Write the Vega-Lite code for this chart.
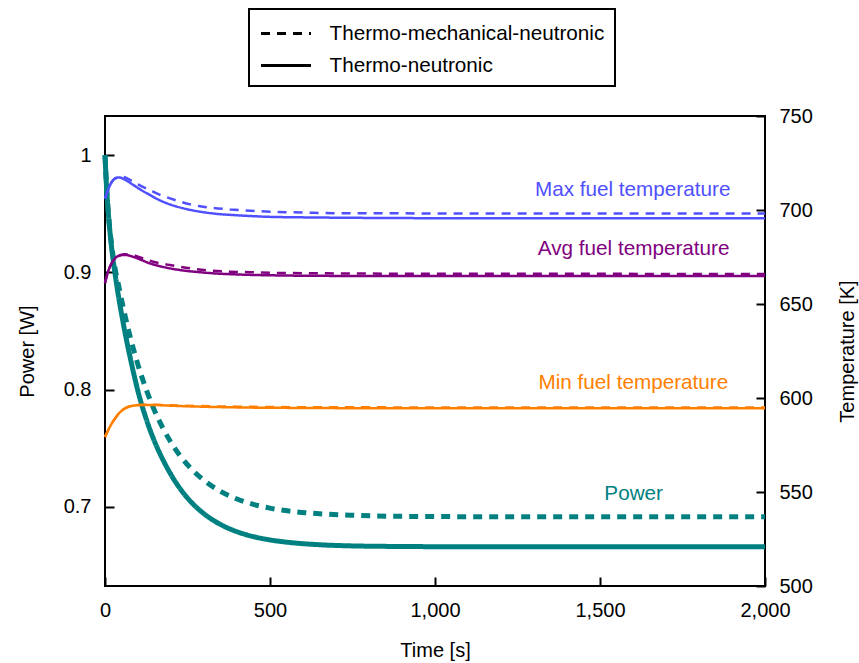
{
  "$schema": "https://vega.github.io/schema/vega-lite/v6.json",
  "width": 660,
  "height": 470,
  "autosize": {"type": "none"},
  "padding": {"left": 105, "top": 116, "right": 94, "bottom": 77},
  "background": "white",
  "config": {
    "font": "Liberation Sans",
    "view": {"stroke": "black", "strokeWidth": 2},
    "axis": {
      "domain": false,
      "grid": false,
      "ticks": true,
      "tickSize": -9,
      "tickWidth": 2,
      "tickColor": "black",
      "labelFontSize": 20,
      "labelColor": "black",
      "labelPadding": 23,
      "labelFlush": false,
      "labelOverlap": false,
      "titleFontSize": 20,
      "titleFontWeight": "normal",
      "titleColor": "black"
    },
    "legend": {
      "orient": "none",
      "legendX": 144,
      "legendY": -107,
      "symbolType": "M-1,0L3,0",
      "symbolSize": 625,
      "symbolStrokeWidth": 3,
      "symbolStrokeColor": "black",
      "labelFontSize": 20.7,
      "labelColor": "black",
      "labelOffset": 42,
      "labelLimit": 0,
      "padding": 10.5,
      "rowPadding": 8,
      "strokeColor": "black",
      "strokeWidth": 2,
      "fillColor": "white"
    }
  },
  "datasets": {
    "power": [
      {"s": "Power", "m": "Thermo-neutronic", "t": 0, "v": 1.0},
      {"s": "Power", "m": "Thermo-neutronic", "t": 5, "v": 0.9712},
      {"s": "Power", "m": "Thermo-neutronic", "t": 10, "v": 0.9506},
      {"s": "Power", "m": "Thermo-neutronic", "t": 15, "v": 0.9345},
      {"s": "Power", "m": "Thermo-neutronic", "t": 20, "v": 0.9211},
      {"s": "Power", "m": "Thermo-neutronic", "t": 25, "v": 0.9098},
      {"s": "Power", "m": "Thermo-neutronic", "t": 30, "v": 0.8997},
      {"s": "Power", "m": "Thermo-neutronic", "t": 40, "v": 0.881},
      {"s": "Power", "m": "Thermo-neutronic", "t": 50, "v": 0.8647},
      {"s": "Power", "m": "Thermo-neutronic", "t": 60, "v": 0.8496},
      {"s": "Power", "m": "Thermo-neutronic", "t": 80, "v": 0.8225},
      {"s": "Power", "m": "Thermo-neutronic", "t": 100, "v": 0.7985},
      {"s": "Power", "m": "Thermo-neutronic", "t": 125, "v": 0.7748},
      {"s": "Power", "m": "Thermo-neutronic", "t": 150, "v": 0.7558},
      {"s": "Power", "m": "Thermo-neutronic", "t": 175, "v": 0.7404},
      {"s": "Power", "m": "Thermo-neutronic", "t": 200, "v": 0.7274},
      {"s": "Power", "m": "Thermo-neutronic", "t": 230, "v": 0.7145},
      {"s": "Power", "m": "Thermo-neutronic", "t": 260, "v": 0.7043},
      {"s": "Power", "m": "Thermo-neutronic", "t": 300, "v": 0.694},
      {"s": "Power", "m": "Thermo-neutronic", "t": 350, "v": 0.6849},
      {"s": "Power", "m": "Thermo-neutronic", "t": 400, "v": 0.6787},
      {"s": "Power", "m": "Thermo-neutronic", "t": 450, "v": 0.6745},
      {"s": "Power", "m": "Thermo-neutronic", "t": 500, "v": 0.6717},
      {"s": "Power", "m": "Thermo-neutronic", "t": 575, "v": 0.6691},
      {"s": "Power", "m": "Thermo-neutronic", "t": 650, "v": 0.6676},
      {"s": "Power", "m": "Thermo-neutronic", "t": 750, "v": 0.6666},
      {"s": "Power", "m": "Thermo-neutronic", "t": 900, "v": 0.6661},
      {"s": "Power", "m": "Thermo-neutronic", "t": 1200, "v": 0.6658},
      {"s": "Power", "m": "Thermo-neutronic", "t": 2000, "v": 0.6658},
      {"s": "Power", "m": "Thermo-mechanical-neutronic", "t": 0, "v": 1.0},
      {"s": "Power", "m": "Thermo-mechanical-neutronic", "t": 5, "v": 0.9712},
      {"s": "Power", "m": "Thermo-mechanical-neutronic", "t": 10, "v": 0.951},
      {"s": "Power", "m": "Thermo-mechanical-neutronic", "t": 15, "v": 0.9355},
      {"s": "Power", "m": "Thermo-mechanical-neutronic", "t": 20, "v": 0.9235},
      {"s": "Power", "m": "Thermo-mechanical-neutronic", "t": 25, "v": 0.913},
      {"s": "Power", "m": "Thermo-mechanical-neutronic", "t": 30, "v": 0.904},
      {"s": "Power", "m": "Thermo-mechanical-neutronic", "t": 40, "v": 0.8904},
      {"s": "Power", "m": "Thermo-mechanical-neutronic", "t": 50, "v": 0.8767},
      {"s": "Power", "m": "Thermo-mechanical-neutronic", "t": 60, "v": 0.8639},
      {"s": "Power", "m": "Thermo-mechanical-neutronic", "t": 70, "v": 0.852},
      {"s": "Power", "m": "Thermo-mechanical-neutronic", "t": 80, "v": 0.8409},
      {"s": "Power", "m": "Thermo-mechanical-neutronic", "t": 100, "v": 0.821},
      {"s": "Power", "m": "Thermo-mechanical-neutronic", "t": 125, "v": 0.7999},
      {"s": "Power", "m": "Thermo-mechanical-neutronic", "t": 150, "v": 0.7821},
      {"s": "Power", "m": "Thermo-mechanical-neutronic", "t": 175, "v": 0.7673},
      {"s": "Power", "m": "Thermo-mechanical-neutronic", "t": 200, "v": 0.7549},
      {"s": "Power", "m": "Thermo-mechanical-neutronic", "t": 230, "v": 0.7426},
      {"s": "Power", "m": "Thermo-mechanical-neutronic", "t": 260, "v": 0.7328},
      {"s": "Power", "m": "Thermo-mechanical-neutronic", "t": 300, "v": 0.7225},
      {"s": "Power", "m": "Thermo-mechanical-neutronic", "t": 350, "v": 0.7132},
      {"s": "Power", "m": "Thermo-mechanical-neutronic", "t": 400, "v": 0.7066},
      {"s": "Power", "m": "Thermo-mechanical-neutronic", "t": 450, "v": 0.702},
      {"s": "Power", "m": "Thermo-mechanical-neutronic", "t": 500, "v": 0.6988},
      {"s": "Power", "m": "Thermo-mechanical-neutronic", "t": 575, "v": 0.6958},
      {"s": "Power", "m": "Thermo-mechanical-neutronic", "t": 650, "v": 0.694},
      {"s": "Power", "m": "Thermo-mechanical-neutronic", "t": 750, "v": 0.6927},
      {"s": "Power", "m": "Thermo-mechanical-neutronic", "t": 900, "v": 0.6918},
      {"s": "Power", "m": "Thermo-mechanical-neutronic", "t": 1200, "v": 0.6915},
      {"s": "Power", "m": "Thermo-mechanical-neutronic", "t": 2000, "v": 0.6914}
    ],
    "temp": [
      {"s": "Max", "m": "Thermo-neutronic", "t": 0, "v": 706.0},
      {"s": "Max", "m": "Thermo-neutronic", "t": 10, "v": 711.0},
      {"s": "Max", "m": "Thermo-neutronic", "t": 20, "v": 714.8},
      {"s": "Max", "m": "Thermo-neutronic", "t": 30, "v": 716.7},
      {"s": "Max", "m": "Thermo-neutronic", "t": 43, "v": 717.3},
      {"s": "Max", "m": "Thermo-neutronic", "t": 60, "v": 716.2},
      {"s": "Max", "m": "Thermo-neutronic", "t": 86, "v": 713.3},
      {"s": "Max", "m": "Thermo-neutronic", "t": 110, "v": 710.6},
      {"s": "Max", "m": "Thermo-neutronic", "t": 136, "v": 708.0},
      {"s": "Max", "m": "Thermo-neutronic", "t": 160, "v": 705.7},
      {"s": "Max", "m": "Thermo-neutronic", "t": 187, "v": 703.6},
      {"s": "Max", "m": "Thermo-neutronic", "t": 210, "v": 702.2},
      {"s": "Max", "m": "Thermo-neutronic", "t": 237, "v": 700.9},
      {"s": "Max", "m": "Thermo-neutronic", "t": 260, "v": 700.0},
      {"s": "Max", "m": "Thermo-neutronic", "t": 288, "v": 699.1},
      {"s": "Max", "m": "Thermo-neutronic", "t": 330, "v": 698.1},
      {"s": "Max", "m": "Thermo-neutronic", "t": 389, "v": 697.3},
      {"s": "Max", "m": "Thermo-neutronic", "t": 440, "v": 696.8},
      {"s": "Max", "m": "Thermo-neutronic", "t": 490, "v": 696.4},
      {"s": "Max", "m": "Thermo-neutronic", "t": 591, "v": 696.1},
      {"s": "Max", "m": "Thermo-neutronic", "t": 713, "v": 695.9},
      {"s": "Max", "m": "Thermo-neutronic", "t": 900, "v": 695.7},
      {"s": "Max", "m": "Thermo-neutronic", "t": 1200, "v": 695.6},
      {"s": "Max", "m": "Thermo-neutronic", "t": 2000, "v": 695.6},
      {"s": "Max", "m": "Thermo-mechanical-neutronic", "t": 0, "v": 706.0},
      {"s": "Max", "m": "Thermo-mechanical-neutronic", "t": 10, "v": 711.0},
      {"s": "Max", "m": "Thermo-mechanical-neutronic", "t": 20, "v": 714.8},
      {"s": "Max", "m": "Thermo-mechanical-neutronic", "t": 30, "v": 716.8},
      {"s": "Max", "m": "Thermo-mechanical-neutronic", "t": 45, "v": 717.7},
      {"s": "Max", "m": "Thermo-mechanical-neutronic", "t": 60, "v": 717.4},
      {"s": "Max", "m": "Thermo-mechanical-neutronic", "t": 76, "v": 716.0},
      {"s": "Max", "m": "Thermo-mechanical-neutronic", "t": 100, "v": 713.6},
      {"s": "Max", "m": "Thermo-mechanical-neutronic", "t": 136, "v": 710.6},
      {"s": "Max", "m": "Thermo-mechanical-neutronic", "t": 165, "v": 708.2},
      {"s": "Max", "m": "Thermo-mechanical-neutronic", "t": 197, "v": 706.2},
      {"s": "Max", "m": "Thermo-mechanical-neutronic", "t": 225, "v": 704.6},
      {"s": "Max", "m": "Thermo-mechanical-neutronic", "t": 258, "v": 703.0},
      {"s": "Max", "m": "Thermo-mechanical-neutronic", "t": 288, "v": 702.0},
      {"s": "Max", "m": "Thermo-mechanical-neutronic", "t": 318, "v": 701.3},
      {"s": "Max", "m": "Thermo-mechanical-neutronic", "t": 379, "v": 700.3},
      {"s": "Max", "m": "Thermo-mechanical-neutronic", "t": 440, "v": 699.6},
      {"s": "Max", "m": "Thermo-mechanical-neutronic", "t": 500, "v": 699.1},
      {"s": "Max", "m": "Thermo-mechanical-neutronic", "t": 561, "v": 698.8},
      {"s": "Max", "m": "Thermo-mechanical-neutronic", "t": 632, "v": 698.5},
      {"s": "Max", "m": "Thermo-mechanical-neutronic", "t": 692, "v": 698.3},
      {"s": "Max", "m": "Thermo-mechanical-neutronic", "t": 1000, "v": 698.2},
      {"s": "Max", "m": "Thermo-mechanical-neutronic", "t": 2000, "v": 698.2},
      {"s": "Avg", "m": "Thermo-neutronic", "t": 0, "v": 661.0},
      {"s": "Avg", "m": "Thermo-neutronic", "t": 5, "v": 664.6},
      {"s": "Avg", "m": "Thermo-neutronic", "t": 10, "v": 667.6},
      {"s": "Avg", "m": "Thermo-neutronic", "t": 15, "v": 669.8},
      {"s": "Avg", "m": "Thermo-neutronic", "t": 25, "v": 673.0},
      {"s": "Avg", "m": "Thermo-neutronic", "t": 35, "v": 675.0},
      {"s": "Avg", "m": "Thermo-neutronic", "t": 45, "v": 675.8},
      {"s": "Avg", "m": "Thermo-neutronic", "t": 61, "v": 676.1},
      {"s": "Avg", "m": "Thermo-neutronic", "t": 80, "v": 675.4},
      {"s": "Avg", "m": "Thermo-neutronic", "t": 105, "v": 673.8},
      {"s": "Avg", "m": "Thermo-neutronic", "t": 136, "v": 671.6},
      {"s": "Avg", "m": "Thermo-neutronic", "t": 160, "v": 670.4},
      {"s": "Avg", "m": "Thermo-neutronic", "t": 187, "v": 669.3},
      {"s": "Avg", "m": "Thermo-neutronic", "t": 230, "v": 668.0},
      {"s": "Avg", "m": "Thermo-neutronic", "t": 288, "v": 666.9},
      {"s": "Avg", "m": "Thermo-neutronic", "t": 340, "v": 666.2},
      {"s": "Avg", "m": "Thermo-neutronic", "t": 389, "v": 665.8},
      {"s": "Avg", "m": "Thermo-neutronic", "t": 490, "v": 665.3},
      {"s": "Avg", "m": "Thermo-neutronic", "t": 713, "v": 664.95},
      {"s": "Avg", "m": "Thermo-neutronic", "t": 2000, "v": 664.9},
      {"s": "Avg", "m": "Thermo-mechanical-neutronic", "t": 0, "v": 661.0},
      {"s": "Avg", "m": "Thermo-mechanical-neutronic", "t": 5, "v": 664.6},
      {"s": "Avg", "m": "Thermo-mechanical-neutronic", "t": 10, "v": 667.6},
      {"s": "Avg", "m": "Thermo-mechanical-neutronic", "t": 15, "v": 669.8},
      {"s": "Avg", "m": "Thermo-mechanical-neutronic", "t": 25, "v": 673.1},
      {"s": "Avg", "m": "Thermo-mechanical-neutronic", "t": 35, "v": 675.1},
      {"s": "Avg", "m": "Thermo-mechanical-neutronic", "t": 45, "v": 676.0},
      {"s": "Avg", "m": "Thermo-mechanical-neutronic", "t": 60, "v": 676.4},
      {"s": "Avg", "m": "Thermo-mechanical-neutronic", "t": 76, "v": 676.3},
      {"s": "Avg", "m": "Thermo-mechanical-neutronic", "t": 100, "v": 675.2},
      {"s": "Avg", "m": "Thermo-mechanical-neutronic", "t": 136, "v": 673.0},
      {"s": "Avg", "m": "Thermo-mechanical-neutronic", "t": 165, "v": 671.7},
      {"s": "Avg", "m": "Thermo-mechanical-neutronic", "t": 197, "v": 670.7},
      {"s": "Avg", "m": "Thermo-mechanical-neutronic", "t": 258, "v": 669.0},
      {"s": "Avg", "m": "Thermo-mechanical-neutronic", "t": 318, "v": 667.8},
      {"s": "Avg", "m": "Thermo-mechanical-neutronic", "t": 379, "v": 667.2},
      {"s": "Avg", "m": "Thermo-mechanical-neutronic", "t": 440, "v": 666.9},
      {"s": "Avg", "m": "Thermo-mechanical-neutronic", "t": 500, "v": 666.6},
      {"s": "Avg", "m": "Thermo-mechanical-neutronic", "t": 672, "v": 666.3},
      {"s": "Avg", "m": "Thermo-mechanical-neutronic", "t": 1000, "v": 666.1},
      {"s": "Avg", "m": "Thermo-mechanical-neutronic", "t": 2000, "v": 666.0},
      {"s": "Min", "m": "Thermo-neutronic", "t": 0, "v": 579.3},
      {"s": "Min", "m": "Thermo-neutronic", "t": 10, "v": 583.0},
      {"s": "Min", "m": "Thermo-neutronic", "t": 20, "v": 586.3},
      {"s": "Min", "m": "Thermo-neutronic", "t": 30, "v": 589.0},
      {"s": "Min", "m": "Thermo-neutronic", "t": 45, "v": 592.3},
      {"s": "Min", "m": "Thermo-neutronic", "t": 60, "v": 594.4},
      {"s": "Min", "m": "Thermo-neutronic", "t": 75, "v": 595.5},
      {"s": "Min", "m": "Thermo-neutronic", "t": 95, "v": 596.1},
      {"s": "Min", "m": "Thermo-neutronic", "t": 120, "v": 596.3},
      {"s": "Min", "m": "Thermo-neutronic", "t": 145, "v": 596.3},
      {"s": "Min", "m": "Thermo-neutronic", "t": 200, "v": 595.9},
      {"s": "Min", "m": "Thermo-neutronic", "t": 288, "v": 595.4},
      {"s": "Min", "m": "Thermo-neutronic", "t": 400, "v": 595.0},
      {"s": "Min", "m": "Thermo-neutronic", "t": 600, "v": 594.7},
      {"s": "Min", "m": "Thermo-neutronic", "t": 1000, "v": 594.5},
      {"s": "Min", "m": "Thermo-neutronic", "t": 2000, "v": 594.5},
      {"s": "Min", "m": "Thermo-mechanical-neutronic", "t": 0, "v": 579.3},
      {"s": "Min", "m": "Thermo-mechanical-neutronic", "t": 10, "v": 583.0},
      {"s": "Min", "m": "Thermo-mechanical-neutronic", "t": 20, "v": 586.3},
      {"s": "Min", "m": "Thermo-mechanical-neutronic", "t": 30, "v": 589.0},
      {"s": "Min", "m": "Thermo-mechanical-neutronic", "t": 45, "v": 592.3},
      {"s": "Min", "m": "Thermo-mechanical-neutronic", "t": 60, "v": 594.4},
      {"s": "Min", "m": "Thermo-mechanical-neutronic", "t": 75, "v": 595.6},
      {"s": "Min", "m": "Thermo-mechanical-neutronic", "t": 95, "v": 596.2},
      {"s": "Min", "m": "Thermo-mechanical-neutronic", "t": 120, "v": 596.4},
      {"s": "Min", "m": "Thermo-mechanical-neutronic", "t": 145, "v": 596.4},
      {"s": "Min", "m": "Thermo-mechanical-neutronic", "t": 200, "v": 596.1},
      {"s": "Min", "m": "Thermo-mechanical-neutronic", "t": 288, "v": 595.7},
      {"s": "Min", "m": "Thermo-mechanical-neutronic", "t": 400, "v": 595.4},
      {"s": "Min", "m": "Thermo-mechanical-neutronic", "t": 600, "v": 595.1},
      {"s": "Min", "m": "Thermo-mechanical-neutronic", "t": 1000, "v": 595.0},
      {"s": "Min", "m": "Thermo-mechanical-neutronic", "t": 2000, "v": 595.0}
    ],
    "plabel": [
      {"s": "Power", "label": "Power", "t": 1602, "v": 0.7108}
    ],
    "tlabel": [
      {"s": "Max", "label": "Max fuel temperature", "t": 1599, "v": 710.6},
      {"s": "Avg", "label": "Avg fuel temperature", "t": 1602, "v": 679.1},
      {"s": "Min", "label": "Min fuel temperature", "t": 1601, "v": 608.1}
    ]
  },
  "layer": [
    {
      "layer": [
        {
          "data": {"name": "power"},
          "mark": {"type": "line", "strokeWidth": 5, "strokeCap": "butt", "interpolate": "monotone"},
          "encoding": {
            "x": {
              "field": "t", "type": "quantitative", "title": "Time [s]",
              "scale": {"domain": [0, 2000], "nice": false, "zero": false},
              "axis": {"values": [0, 500, 1000, 1500, 2000], "format": ",d", "titleX": 330, "titleY": 64, "titleBaseline": "middle", "titleAlign": "center"}
            },
            "y": {
              "field": "v", "type": "quantitative", "title": "Power [W]",
              "scale": {"domain": [0.6324, 1.0333], "nice": false, "zero": false},
              "axis": {"orient": "left", "values": [0.7, 0.8, 0.9, 1], "format": "~g", "titleX": -78, "titleY": 235, "titleAngle": -90, "titleBaseline": "middle", "titleAlign": "center"}
            },
            "color": {
              "field": "s", "type": "nominal", "legend": null,
              "scale": {"domain": ["Power", "Max", "Avg", "Min"], "range": ["#008080", "#5050ff", "#800080", "#ff8000"]}
            },
            "strokeDash": {
              "field": "m", "type": "nominal", "title": null,
              "scale": {"domain": ["Thermo-mechanical-neutronic", "Thermo-neutronic"], "range": [[9, 7], [1, 0]]},
              "legend": {"title": null}
            },
            "order": {"field": "t", "type": "quantitative"}
          }
        },
        {
          "data": {"name": "plabel"},
          "mark": {"type": "text", "fontSize": 20.7, "align": "center", "baseline": "middle"},
          "encoding": {
            "x": {"field": "t", "type": "quantitative", "title": "Time [s]"},
            "y": {"field": "v", "type": "quantitative", "title": "Power [W]"},
            "text": {"field": "label"},
            "color": {"field": "s", "type": "nominal", "legend": null}
          }
        }
      ]
    },
    {
      "layer": [
        {
          "data": {"name": "temp"},
          "mark": {"type": "line", "strokeWidth": 2.5, "strokeCap": "butt", "interpolate": "monotone"},
          "encoding": {
            "x": {"field": "t", "type": "quantitative", "title": "Time [s]"},
            "y": {
              "field": "v", "type": "quantitative", "title": "Temperature [K]",
              "scale": {"domain": [500, 750], "nice": false, "zero": false},
              "axis": {"orient": "right", "values": [500, 550, 600, 650, 700, 750], "format": "d", "titleX": 82, "titleY": 235, "titleAngle": -90, "titleBaseline": "middle", "titleAlign": "center"}
            },
            "color": {"field": "s", "type": "nominal", "legend": null},
            "strokeDash": {"field": "m", "type": "nominal", "title": null},
            "order": {"field": "t", "type": "quantitative"}
          }
        },
        {
          "data": {"name": "tlabel"},
          "mark": {"type": "text", "fontSize": 20.7, "align": "center", "baseline": "middle"},
          "encoding": {
            "x": {"field": "t", "type": "quantitative", "title": "Time [s]"},
            "y": {"field": "v", "type": "quantitative", "title": "Temperature [K]"},
            "text": {"field": "label"},
            "color": {"field": "s", "type": "nominal", "legend": null}
          }
        }
      ]
    }
  ],
  "resolve": {"scale": {"y": "independent"}}
}
